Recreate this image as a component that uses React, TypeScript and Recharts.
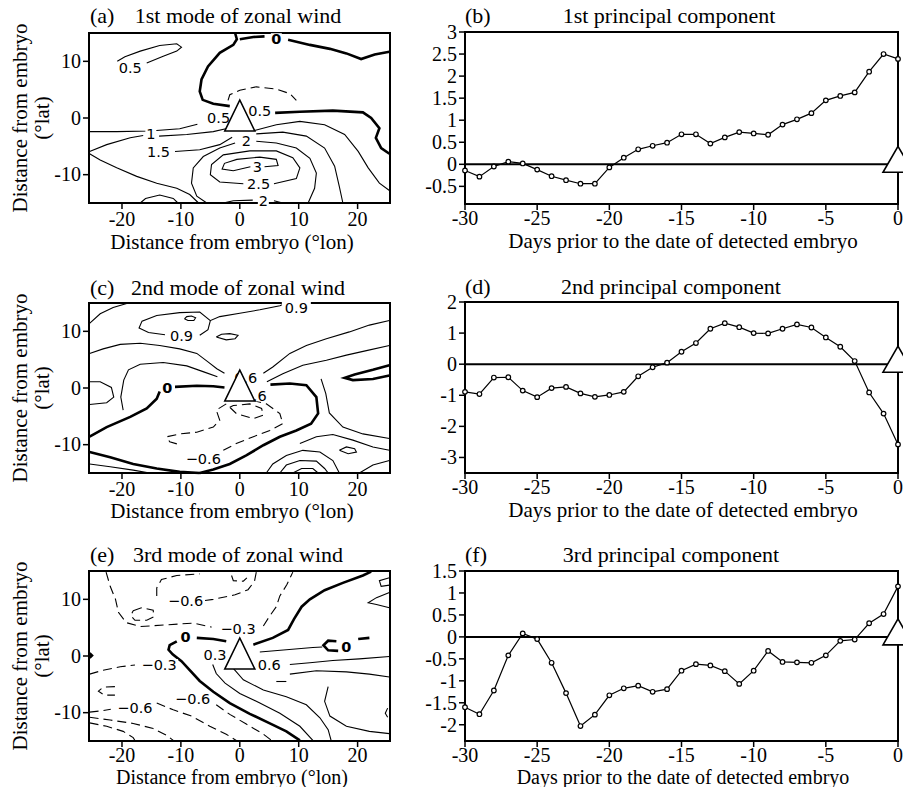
import {
  ComposedChart,
  Line,
  ReferenceArea,
  ReferenceLine,
  Scatter,
  XAxis,
  YAxis,
} from "recharts";

type Pt = [number, number];
type Kind = "thin" | "thick" | "dash";
type Contour = { id: string; kind: Kind; pts: Pt[] };
type Tag = { x: number; y: number; t: string; bold?: boolean };

const SERIF = "'Liberation Serif', 'Times New Roman', serif";
const SANS = "'DejaVu Sans', 'Liberation Sans', sans-serif";

// ---------- right column: principal components ----------
const days = [
  -30, -29, -28, -27, -26, -25, -24, -23, -22, -21, -20, -19, -18, -17, -16, -15,
  -14, -13, -12, -11, -10, -9, -8, -7, -6, -5, -4, -3, -2, -1, 0,
];
const dayTicks = [-30, -25, -20, -15, -10, -5, 0];

const pc1 = [
  -0.14, -0.28, -0.05, 0.06, 0.02, -0.12, -0.27, -0.36, -0.44, -0.44, -0.07, 0.15,
  0.34, 0.42, 0.49, 0.68, 0.68, 0.47, 0.61, 0.73, 0.7, 0.67, 0.9, 1.02, 1.16, 1.45,
  1.55, 1.63, 2.1, 2.5, 2.39,
];
const pc2 = [
  -0.89, -0.96, -0.43, -0.42, -0.85, -1.06, -0.77, -0.73, -0.94, -1.05, -0.99, -0.89,
  -0.39, -0.1, 0.05, 0.4, 0.68, 1.14, 1.32, 1.19, 1.0, 0.99, 1.14, 1.28, 1.18, 0.86,
  0.56, 0.1, -0.91, -1.59, -2.58,
];
const pc3 = [
  -1.6, -1.76, -1.22, -0.42, 0.08, -0.05, -0.59, -1.28, -2.03, -1.77, -1.33, -1.17,
  -1.11, -1.25, -1.19, -0.77, -0.62, -0.65, -0.78, -1.07, -0.77, -0.32, -0.57, -0.58,
  -0.59, -0.42, -0.09, -0.06, 0.31, 0.52, 1.15,
];
const pc1Ticks = [-0.5, 0, 0.5, 1, 1.5, 2, 2.5, 3];
const pc2Ticks = [-3, -2, -1, 0, 1, 2];
const pc3Ticks = [-2, -1.5, -1, -0.5, 0, 0.5, 1, 1.5];

// ---------- left column: zonal wind modes (lon, lat) ----------
const lonTicks = [-20, -10, 0, 10, 20];
const latTicks = [-10, 0, 10];
const LON: [number, number] = [-25.6, 25.5];
const LAT: [number, number] = [-15, 15];

// (a) 1st mode
const aLoop05: Pt[] = [[-15.8, 9.7], [-13.0, 10.9], [-10.7, 11.8], [-9.9, 12.5], [-10.7, 13.1], [-13.6, 12.8], [-16.9, 11.8], [-19.5, 10.8], [-20.8, 10.0]];
const aZeroNorth: Pt[] = [[-0.8, 15], [-0.5, 13.9], [-1.1, 12.9], [-3.4, 11.5], [-5.4, 9.1], [-6.5, 6.8], [-6.8, 4.7], [-6.3, 3.2], [-4.5, 2.5], [-1.7, 2.1]];
const aZeroTop: Pt[] = [[0, 13.9], [2.3, 14.3], [4.2, 14.4]];
const aZeroNE: Pt[] = [[8.2, 13.8], [11.9, 12.9], [15.3, 12.2], [18.1, 11.4], [20.6, 10.4], [22.9, 11.2], [25.4, 11.7]];
const aZeroEast: Pt[] = [[6.0, 0.9], [10.2, 1.1], [15.8, 1.3], [20.9, 1.0], [22.3, 0], [23.7, -1.8], [23.1, -3.5], [24.0, -5.3], [25.4, -6.3]];
const aNeg: Pt[] = [[-2.0, 3.1], [-1.7, 4.1], [0, 4.9], [2.8, 5.5], [6.2, 5.1], [8.5, 4.3], [9.6, 3.1]];
const a05West: Pt[] = [[-25.5, -2.4], [-20.9, -2.4], [-15.3, -2.3], [-10.2, -1.9], [-7.2, -1.1]];
const a1West: Pt[] = [[-25.5, -5.9], [-22.6, -4.7], [-18.6, -3.5], [-16.4, -3.1]];
const a1Mid: Pt[] = [[-13.7, -3.2], [-9.0, -2.9], [-4.5, -2.4], [-2.0, -1.8]];
const a1East: Pt[] = [[2.5, -2.2], [6.2, -1.2], [10.2, -0.6], [14.4, -1.2], [17.8, -2.9], [20.1, -5.9], [21.8, -8.8], [23.7, -11.5], [25.4, -12.8]];
const a15West: Pt[] = [[-11.0, -5.9], [-6.8, -5.6], [-3.4, -4.7], [-1.3, -3.4]];
const a15East: Pt[] = [[2.8, -2.8], [7.3, -2.5], [11.3, -3.2], [14.4, -5.3], [16.1, -8.5], [16.9, -12.1], [17.5, -15]];
const a2West: Pt[] = [[-5.6, -15], [-7.3, -13.8], [-8.2, -11.5], [-7.9, -8.8], [-6.2, -6.8], [-3.4, -5.3], [-0.8, -4.4]];
const a2East: Pt[] = [[2.8, -4.1], [6.2, -4.4], [9.6, -5.3], [11.9, -7.1], [13.0, -9.7], [12.7, -12.4], [11.6, -15]];
const a2SouthW: Pt[] = [[-2.8, -15], [-1.1, -14.6], [2.2, -14.5]];
const a2SouthE: Pt[] = [[5.8, -14.6], [7.3, -15]];
const a25: Pt[] = [[0.6, -11.6], [-3.4, -11.3], [-5.0, -10.0], [-4.8, -8.2], [-2.8, -6.5], [1.7, -5.8], [6.2, -5.8], [9.0, -7.0], [10.2, -8.8], [9.6, -10.7], [5.8, -11.6]];
const a3: Pt[] = [[1.8, -8.6], [-1.1, -9.3], [-3.0, -9.0], [-2.6, -8.0], [-0.5, -7.3], [3.4, -6.9], [6.2, -7.3], [6.5, -8.4], [4.2, -8.6]];
const aSW: Pt[] = [[-25.5, -6.3], [-23.7, -7.4], [-20.9, -8.8], [-17.5, -10.3], [-14.1, -11.5], [-10.7, -12.4], [-8.5, -13.5], [-7.0, -15]];
const aHump: Pt[] = [[-16.9, -15], [-16.0, -14.2], [-13.6, -13.6], [-11.3, -14.2], [-10.5, -15]];

const aContours: Contour[] = [
  { id: "aLoop05", kind: "thin", pts: aLoop05 },
  { id: "aZeroNorth", kind: "thick", pts: aZeroNorth },
  { id: "aZeroTop", kind: "thick", pts: aZeroTop },
  { id: "aZeroNE", kind: "thick", pts: aZeroNE },
  { id: "aZeroEast", kind: "thick", pts: aZeroEast },
  { id: "aNeg", kind: "dash", pts: aNeg },
  { id: "a05West", kind: "thin", pts: a05West },
  { id: "a1West", kind: "thin", pts: a1West },
  { id: "a1Mid", kind: "thin", pts: a1Mid },
  { id: "a1East", kind: "thin", pts: a1East },
  { id: "a15West", kind: "thin", pts: a15West },
  { id: "a15East", kind: "thin", pts: a15East },
  { id: "a2West", kind: "thin", pts: a2West },
  { id: "a2East", kind: "thin", pts: a2East },
  { id: "a2SouthW", kind: "thin", pts: a2SouthW },
  { id: "a2SouthE", kind: "thin", pts: a2SouthE },
  { id: "a25", kind: "thin", pts: a25 },
  { id: "a3", kind: "thin", pts: a3 },
  { id: "aSW", kind: "thin", pts: aSW },
  { id: "aHump", kind: "thin", pts: aHump },
];
const aTags: Tag[] = [
  { x: -18.6, y: 8.8, t: "0.5" },
  { x: 6.2, y: 13.9, t: "0", bold: true },
  { x: -3.6, y: 0, t: "0.5" },
  { x: 3.4, y: 1.2, t: "0.5" },
  { x: -15.1, y: -2.8, t: "1" },
  { x: -13.8, y: -5.9, t: "1.5" },
  { x: 1.1, y: -4.1, t: "2" },
  { x: 3.0, y: -8.6, t: "3" },
  { x: 3.2, y: -11.6, t: "2.5" },
  { x: 4.0, y: -14.6, t: "2" },
];

// (c) 2nd mode
const cTopLeft: Pt[] = [[-25.5, 11.4], [-23.7, 13.1], [-21.5, 14.2], [-19.2, 14.9]];
const c09North: Pt[] = [[-6.8, 9.3], [-5.4, 10.3], [-5.0, 11.9], [-3.4, 12.6], [0, 13.2], [3.4, 13.8], [6.8, 14.5], [7.9, 15]];
const c09West: Pt[] = [[-12.7, 9.4], [-15.5, 9.8], [-17.1, 10.6], [-16.6, 11.8], [-14.1, 12.8], [-10.2, 13.3], [-6.8, 13.4], [-5.0, 11.9]];
const cEll1: Pt[] = [[-9.4, 12.2], [-9.0, 12.6], [-8.2, 12.7], [-7.5, 12.4], [-7.8, 11.9], [-8.8, 11.9], [-9.4, 12.2]];
const cEll2: Pt[] = [[-4.0, 9.0], [-3.1, 9.5], [-1.7, 9.6], [-0.3, 9.3], [-0.8, 8.7], [-2.3, 8.5], [-4.0, 9.0]];
const cUpper: Pt[] = [[-25.5, 6.1], [-23.2, 6.9], [-20.3, 7.7], [-16.9, 7.9], [-13.6, 7.5], [-10.2, 6.9], [-7.3, 6.1], [-5.4, 4.6], [-3.9, 3.4], [-2.6, 2.6]];
const c06West: Pt[] = [[-19.8, -3.9], [-20.2, -1.6], [-19.7, 1.4], [-18.9, 3.2], [-16.9, 4.2], [-13.0, 4.5], [-9.0, 3.9], [-6.0, 2.8], [-3.8, 2.0]];
const cLeftLoop: Pt[] = [[-25.5, 1.1], [-23.7, 1.1], [-21.8, 0.1], [-21.4, -1.6], [-22.6, -2.6], [-25.5, -2.9]];
const cZeroWest: Pt[] = [[-25.5, -8.6], [-22.6, -6.9], [-18.6, -5.1], [-15.8, -3.6], [-14.1, -1.9], [-13.6, -0.6]];
const cZeroMid: Pt[] = [[-11.0, 0.2], [-7.3, 0.4], [-4.5, 0.3], [-2.6, 0.1]];
const cZeroEast: Pt[] = [[5.2, 0.6], [8.5, 0.8], [11.3, 0.5], [13.0, -1.6], [13.3, -4.5], [12.1, -6.3], [9.6, -7.5], [6.8, -8.6], [4.0, -10.1], [1.1, -11.9], [-1.7, -13.4], [-4.5, -14.4], [-6.8, -15]];
const cZeroBottom: Pt[] = [[-25.5, -11.3], [-22.0, -12.2], [-18.1, -13.4], [-14.1, -14.2], [-10.2, -14.8], [-6.8, -15]];
const cBottomLeft: Pt[] = [[-25.5, -13.4], [-22.0, -13.9], [-18.1, -14.5], [-15.3, -15]];
const cDashInner: Pt[] = [[-1.7, -3.4], [-0.6, -4.5], [2.3, -5.4], [4.0, -4.8], [3.7, -3.6], [1.7, -2.8], [-1.1, -3.1], [-1.7, -3.4]];
const cDashWest: Pt[] = [[-2.3, -2.8], [-4.0, -3.9], [-3.4, -5.7], [-4.5, -6.9], [-7.3, -7.8], [-10.2, -8.1], [-12.4, -8.6], [-11.9, -9.5], [-9.9, -10.1]];
const cDashEast: Pt[] = [[-2.8, -11.0], [-0.6, -9.8], [2.3, -8.6], [5.1, -7.5], [7.3, -6.3], [6.8, -4.5], [4.5, -2.8], [2.3, -2.2]];
const cR1: Pt[] = [[4.0, 2.6], [5.6, 3.7], [8.5, 6.1], [11.3, 7.5], [14.7, 8.7], [18.6, 9.9], [22.0, 11.1], [25.4, 11.9]];
const cR2: Pt[] = [[4.6, 1.1], [7.3, 2.5], [10.7, 4.0], [14.7, 4.9], [18.1, 5.8], [21.5, 6.6], [25.4, 7.5]];
const cTongue: Pt[] = [[25.4, 4.0], [22.6, 3.2], [19.5, 2.4], [17.8, 1.8], [19.2, 1.4], [22.6, 1.6], [25.4, 2.2]];
const cR3: Pt[] = [[13.8, 1.6], [14.6, -1.0], [15.2, -4.4], [17.5, -6.9], [20.9, -8.1], [25.4, -8.9]];
const cR4: Pt[] = [[10.2, -9.8], [13.0, -8.6], [15.8, -8.2], [19.2, -9.2], [22.6, -10.4], [25.4, -11.0]];
const cArc1: Pt[] = [[4.5, -15], [5.6, -13.4], [7.9, -11.9], [10.7, -11.0], [13.6, -11.3], [15.8, -12.8], [16.9, -15]];
const cArc2: Pt[] = [[6.8, -15], [7.9, -13.6], [10.2, -12.8], [13.0, -12.9], [14.4, -14.2], [15.0, -15]];
const cArc3: Pt[] = [[9.0, -15], [10.5, -14.2], [12.4, -14.2], [13.3, -15]];
const cEll3: Pt[] = [[16.9, -11.0], [18.1, -10.4], [19.5, -10.7], [19.8, -11.3], [18.4, -11.6], [16.9, -11.0]];
const cBR: Pt[] = [[20.3, -15], [22.6, -13.6], [25.4, -12.8]];

const cContours: Contour[] = [
  { id: "cTopLeft", kind: "thin", pts: cTopLeft },
  { id: "c09North", kind: "thin", pts: c09North },
  { id: "c09West", kind: "thin", pts: c09West },
  { id: "cEll1", kind: "thin", pts: cEll1 },
  { id: "cEll2", kind: "thin", pts: cEll2 },
  { id: "cUpper", kind: "thin", pts: cUpper },
  { id: "c06West", kind: "thin", pts: c06West },
  { id: "cLeftLoop", kind: "thin", pts: cLeftLoop },
  { id: "cZeroWest", kind: "thick", pts: cZeroWest },
  { id: "cZeroMid", kind: "thick", pts: cZeroMid },
  { id: "cZeroEast", kind: "thick", pts: cZeroEast },
  { id: "cZeroBottom", kind: "thick", pts: cZeroBottom },
  { id: "cBottomLeft", kind: "thin", pts: cBottomLeft },
  { id: "cDashInner", kind: "dash", pts: cDashInner },
  { id: "cDashWest", kind: "dash", pts: cDashWest },
  { id: "cDashEast", kind: "dash", pts: cDashEast },
  { id: "cR1", kind: "thin", pts: cR1 },
  { id: "cR2", kind: "thin", pts: cR2 },
  { id: "cTongue", kind: "thick", pts: cTongue },
  { id: "cR3", kind: "thin", pts: cR3 },
  { id: "cR4", kind: "thin", pts: cR4 },
  { id: "cArc1", kind: "thin", pts: cArc1 },
  { id: "cArc2", kind: "thin", pts: cArc2 },
  { id: "cArc3", kind: "thin", pts: cArc3 },
  { id: "cEll3", kind: "thin", pts: cEll3 },
  { id: "cBR", kind: "thin", pts: cBR },
];
const cTags: Tag[] = [
  { x: -9.9, y: 9.3, t: "0.9" },
  { x: 9.6, y: 14.2, t: "0.9" },
  { x: -12.3, y: 0, t: "0", bold: true },
  { x: 1.0, y: 1.8, t: "0.6" },
  { x: 2.6, y: -1.3, t: "0.6" },
  { x: -6.2, y: -12.5, t: "\u22120.6" },
];

// (e) 3rd mode
const eZeroMain: Pt[] = [[-10.7, 2.6], [-11.9, 1.9], [-12.1, 1.1], [-11.4, 0.3], [-9.9, -0.9], [-8.5, -2.5], [-6.8, -4.4], [-4.5, -6.3], [-1.7, -8.3], [1.7, -10.2], [5.1, -11.9], [7.9, -13.3], [10.2, -14.9]];
const eZeroMid: Pt[] = [[-7.3, 3.2], [-4.5, 3.0], [-2.3, 2.6]];
const eZeroNE: Pt[] = [[2.3, 2.0], [5.6, 3.2], [8.2, 4.6], [9.2, 6.5], [10.5, 8.7], [11.9, 10.0], [14.4, 11.6], [17.5, 12.9], [20.9, 14.2], [22.3, 14.9]];
const eTongueTail: Pt[] = [[22.0, 3.2], [20.1, 3.0]];
const eTongueC: Pt[] = [[16.4, 2.6], [15.0, 2.7], [14.2, 1.9], [15.0, 1.0], [16.7, 0.9]];
const e03: Pt[] = [[-4.6, -1.5], [-4.0, -3.1], [-2.5, -4.8], [0, -6.6], [3.4, -8.3], [6.8, -10.1], [10.2, -12.4], [12.4, -14.9]];
const eThin2: Pt[] = [[-1.1, -2.2], [0.6, -4.2], [4.0, -6.0], [7.9, -7.2], [11.3, -8.6], [13.6, -10.9], [15.0, -13.0], [15.5, -14.9]];
const e06: Pt[] = [[8.5, -1.5], [11.9, -1.2], [15.8, -0.8], [20.3, -0.5], [25.4, -0.1]];
const eThin3: Pt[] = [[3.4, 0.7], [7.9, 1.1], [12.4, 1.5], [14.0, 1.6]];
const eThin4: Pt[] = [[8.5, -3.2], [13.0, -2.6], [18.1, -2.8], [22.0, -3.2], [25.4, -3.7]];
const eThin5: Pt[] = [[15.0, -5.4], [14.4, -8.0], [15.3, -10.6], [18.1, -12.4], [22.0, -13.3], [25.4, -13.7]];
const eSm1: Pt[] = [[25.4, 13.8], [23.7, 13.3], [24.0, 12.3], [25.4, 12.5]];
const eSm2: Pt[] = [[25.4, 8.5], [23.2, 9.1], [21.8, 9.4], [23.2, 10.3], [25.4, 11.2]];
const eSm3: Pt[] = [[25.1, -9.2], [24.7, -10.1], [25.1, -10.8]];
const eTick: Pt[] = [[6.2, -4.5], [7.9, -4.5]];
const eEdge: Pt[] = [[-25.5, 0.5], [-25.1, 0.1], [-25.5, -0.3]];
const eD03N: Pt[] = [[-22.7, 14.8], [-22.0, 12.3], [-21.1, 10.0], [-20.6, 7.7], [-19.3, 5.9], [-16.9, 5.2], [-12.4, 5.5], [-7.9, 5.8], [-4.8, 5.1]];
const eD03NE: Pt[] = [[4.0, 5.3], [5.1, 7.1], [6.2, 8.7], [6.8, 10.6], [8.0, 12.6], [9.0, 14.8]];
const eD06N: Pt[] = [[2.8, 14.8], [2.5, 13.2], [1.4, 11.7], [-0.8, 10.8], [-4.5, 10.0], [-5.9, 9.8]];
const eD06NW: Pt[] = [[-14.1, 10.6], [-14.1, 12.0], [-13.3, 13.5], [-10.7, 14.2], [-6.8, 14.5]];
const eDC: Pt[] = [[-1.4, 14.2], [-1.1, 13.3], [0.6, 13.2], [1.2, 13.8]];
const eDLoop: Pt[] = [[-18.1, 8.0], [-16.7, 8.5], [-14.7, 8.1], [-14.6, 6.9], [-15.8, 6.3], [-17.8, 6.3], [-18.5, 7.1], [-18.1, 8.0]];
const eD03W: Pt[] = [[-25.5, -3.2], [-23.2, -2.5], [-20.3, -1.9], [-17.8, -1.6]];
const eDLoopW: Pt[] = [[-21.2, -5.4], [-23.2, -5.5], [-24.0, -6.2], [-23.0, -6.9], [-21.2, -6.9]];
const eD06W: Pt[] = [[-25.5, -9.9], [-23.7, -9.7], [-21.9, -9.4]];
const eD06Mid: Pt[] = [[-4.0, -8.6], [-1.7, -10.3], [1.1, -12.0], [4.0, -13.8], [5.4, -14.9]];
const eDJ: Pt[] = [[-14.1, -8.3], [-11.3, -9.5], [-8.2, -10.6], [-5.1, -12.4], [-2.3, -13.8], [-0.6, -14.9]];
const eDH: Pt[] = [[-25.5, -10.8], [-22.0, -11.3], [-18.1, -11.9], [-14.7, -12.8], [-12.4, -14.0], [-11.3, -14.9]];
const eDI: Pt[] = [[-25.5, -11.8], [-22.6, -12.4], [-19.8, -13.3], [-18.1, -14.4], [-17.8, -14.9]];

const eContours: Contour[] = [
  { id: "eZeroMain", kind: "thick", pts: eZeroMain },
  { id: "eZeroMid", kind: "thick", pts: eZeroMid },
  { id: "eZeroNE", kind: "thick", pts: eZeroNE },
  { id: "eTongueTail", kind: "thick", pts: eTongueTail },
  { id: "eTongueC", kind: "thick", pts: eTongueC },
  { id: "eEdge", kind: "thick", pts: eEdge },
  { id: "e03", kind: "thin", pts: e03 },
  { id: "eThin2", kind: "thin", pts: eThin2 },
  { id: "e06", kind: "thin", pts: e06 },
  { id: "eThin3", kind: "thin", pts: eThin3 },
  { id: "eThin4", kind: "thin", pts: eThin4 },
  { id: "eThin5", kind: "thin", pts: eThin5 },
  { id: "eSm1", kind: "thin", pts: eSm1 },
  { id: "eSm2", kind: "thin", pts: eSm2 },
  { id: "eSm3", kind: "thin", pts: eSm3 },
  { id: "eTick", kind: "thin", pts: eTick },
  { id: "eD03N", kind: "dash", pts: eD03N },
  { id: "eD03NE", kind: "dash", pts: eD03NE },
  { id: "eD06N", kind: "dash", pts: eD06N },
  { id: "eD06NW", kind: "dash", pts: eD06NW },
  { id: "eDC", kind: "dash", pts: eDC },
  { id: "eDLoop", kind: "dash", pts: eDLoop },
  { id: "eD03W", kind: "dash", pts: eD03W },
  { id: "eDLoopW", kind: "dash", pts: eDLoopW },
  { id: "eD06W", kind: "dash", pts: eD06W },
  { id: "eD06Mid", kind: "dash", pts: eD06Mid },
  { id: "eDJ", kind: "dash", pts: eDJ },
  { id: "eDH", kind: "dash", pts: eDH },
  { id: "eDI", kind: "dash", pts: eDI },
];
const eTags: Tag[] = [
  { x: -9.2, y: 3.4, t: "0", bold: true },
  { x: -4.2, y: 0.3, t: "0.3" },
  { x: 5.0, y: -1.5, t: "0.6" },
  { x: 18.1, y: 1.7, t: "0", bold: true },
  { x: -0.3, y: 4.8, t: "\u22120.3" },
  { x: -9.2, y: 9.7, t: "\u22120.6" },
  { x: -13.7, y: -1.6, t: "\u22120.3" },
  { x: -17.8, y: -9.2, t: "\u22120.6" },
  { x: -8.0, y: -7.6, t: "\u22120.6" },
];

const origin = [{ x: 0, y: 0 }];

const lineStyle: Record<Kind, { stroke: string; strokeWidth: number; strokeDasharray?: string }> = {
  thin: { stroke: "#000", strokeWidth: 1.1 },
  thick: { stroke: "#000", strokeWidth: 2.6 },
  dash: { stroke: "#000", strokeWidth: 1.1, strokeDasharray: "9 5" },
};

function toXY(pts: Pt[]) {
  return pts.map(([x, y]) => ({ x, y }));
}

function XTick(props: any) {
  const { x, y, payload } = props;
  return (
    <text x={x} y={y} dy="0.71em" textAnchor="middle" fontSize={20} fontFamily={SERIF} fill="#000">
      {payload.value}
    </text>
  );
}

function YTick(props: any) {
  const { x, y, payload } = props;
  return (
    <text x={x} y={y} dy="0.34em" textAnchor="end" fontSize={20} fontFamily={SERIF} fill="#000">
      {payload.value}
    </text>
  );
}

function ContourLabel(props: any) {
  const { cx, cy, payload } = props;
  const w = payload.t.length * 9 + 2;
  return (
    <g>
      <rect x={cx - w / 2} y={cy - 6} width={w} height={12} fill="#fff" />
      <text
        x={cx}
        y={cy}
        dy="0.36em"
        textAnchor="middle"
        fontSize={14.5}
        fontWeight={payload.bold ? 700 : 400}
        fontFamily={SANS}
        fill="#000"
      >
        {payload.t}
      </text>
    </g>
  );
}

function MapTriangle(props: any) {
  const { cx, cy } = props;
  return (
    <path
      d={`M${cx},${cy - 18} L${cx + 15},${cy + 13} L${cx - 15},${cy + 13} Z`}
      fill="#fff"
      stroke="#000"
      strokeWidth={1.6}
    />
  );
}

function SeriesTriangle(props: any) {
  const { cx, cy } = props;
  return (
    <path
      d={`M${cx},${cy - 18} L${cx + 15},${cy + 8} L${cx - 15},${cy + 8} Z`}
      fill="#fff"
      stroke="#000"
      strokeWidth={1.6}
    />
  );
}

const tickLine = { stroke: "#000", strokeWidth: 1.5 };

function ContourPanel({
  top,
  padTop,
  gap,
  contours,
  tags,
}: {
  top: number;
  padTop: number;
  gap: number;
  contours: Contour[];
  tags: Tag[];
}) {
  const h = 250;
  return (
    <div style={{ position: "absolute", left: 0, top }}>
      <ComposedChart width={440} height={h} margin={{ top: padTop, right: 50, bottom: h - padTop - 170 - 30, left: 44 }}>
        <XAxis
          type="number"
          dataKey="x"
          domain={LON}
          ticks={lonTicks}
          interval={0}
          height={30}
          axisLine={false}
          tickLine={tickLine}
          tickSize={6}
          tickMargin={gap}
          tick={<XTick />}
        />
        <YAxis
          type="number"
          dataKey="y"
          domain={LAT}
          ticks={latTicks}
          interval={0}
          width={45}
          axisLine={false}
          tickLine={tickLine}
          tickSize={6}
          tickMargin={2}
          tick={<YTick />}
        />
        {contours.map((c) => (
          <Line
            key={c.id}
            data={toXY(c.pts)}
            dataKey="y"
            type="linear"
            dot={false}
            activeDot={false}
            isAnimationActive={false}
            {...lineStyle[c.kind]}
          />
        ))}
        <Scatter data={tags} shape={ContourLabel} isAnimationActive={false} />
        <ReferenceArea x1={LON[0]} x2={LON[1]} y1={LAT[0]} y2={LAT[1]} fill="none" stroke="#000" strokeWidth={2} />
        <Scatter data={origin} shape={MapTriangle} isAnimationActive={false} />
      </ComposedChart>
    </div>
  );
}

function PcPanel({
  top,
  padTop,
  plotH,
  values,
  domain,
  ticks,
}: {
  top: number;
  padTop: number;
  plotH: number;
  values: number[];
  domain: [number, number];
  ticks: number[];
}) {
  const h = 250;
  const rows = days.map((d, i) => ({ x: d, y: values[i] }));
  return (
    <div style={{ position: "absolute", left: 400, top }}>
      <ComposedChart width={503} height={h} data={rows} margin={{ top: padTop, right: 5, bottom: h - padTop - plotH - 30, left: 5 }}>
        <XAxis
          type="number"
          dataKey="x"
          domain={[-30, 0]}
          ticks={dayTicks}
          interval={0}
          height={30}
          axisLine={false}
          tickLine={tickLine}
          tickSize={6}
          tickMargin={1}
          tick={<XTick />}
        />
        <YAxis
          type="number"
          dataKey="y"
          domain={domain}
          ticks={ticks}
          interval={0}
          width={60}
          axisLine={false}
          tickLine={tickLine}
          tickSize={6}
          tickMargin={2}
          tick={<YTick />}
        />
        <ReferenceLine y={0} stroke="#000" strokeWidth={2} />
        <Line
          dataKey="y"
          type="linear"
          stroke="#000"
          strokeWidth={1.2}
          dot={{ r: 2.3, fill: "#fff", stroke: "#000", strokeWidth: 1.2 }}
          activeDot={false}
          isAnimationActive={false}
        />
        <ReferenceArea x1={-30} x2={0} y1={domain[0]} y2={domain[1]} fill="none" stroke="#000" strokeWidth={2} />
        <Scatter data={origin} shape={SeriesTriangle} isAnimationActive={false} />
      </ComposedChart>
    </div>
  );
}

function Txt({
  x,
  y,
  size,
  text,
  start,
  rotate,
}: {
  x: number;
  y: number;
  size: number;
  text: string;
  start?: boolean;
  rotate?: boolean;
}) {
  return (
    <div
      style={{
        position: "absolute",
        left: x,
        top: y,
        transform: `translate(${start ? "0" : "-50%"}, -50%)${rotate ? " rotate(-90deg)" : ""}`,
        fontSize: size,
        fontFamily: SERIF,
        lineHeight: 1,
        whiteSpace: "nowrap",
        color: "#000",
      }}
    >
      {text}
    </div>
  );
}

const leftX = "Distance from embryo (\u00b0lon)";
const rightX = "Days prior to the date of detected embryo";
const yTitle = "Distance from embryo";
const yUnit = "(\u00b0lat)";

export default function App() {
  return (
    <div style={{ position: "absolute", left: 0, top: 0, width: 903, height: 787, background: "#fff", overflow: "hidden" }}>
      <ContourPanel top={0} padTop={33} gap={3} contours={aContours} tags={aTags} />
      <ContourPanel top={270} padTop={33} gap={3} contours={cContours} tags={cTags} />
      <ContourPanel top={530} padTop={41} gap={1} contours={eContours} tags={eTags} />

      <PcPanel top={0} padTop={32} plotH={172} values={pc1} domain={[-0.9, 3]} ticks={pc1Ticks} />
      <PcPanel top={270} padTop={32} plotH={171} values={pc2} domain={[-3.5, 2]} ticks={pc2Ticks} />
      <PcPanel top={530} padTop={41} plotH={170} values={pc3} domain={[-2.37, 1.5]} ticks={pc3Ticks} />

      <Txt x={90} y={16} size={22} start text="(a)" />
      <Txt x={238} y={16} size={22} text="1st mode of zonal wind" />
      <Txt x={465} y={16} size={22} start text="(b)" />
      <Txt x={669} y={16} size={22} text="1st principal component" />
      <Txt x={90} y={288} size={22} start text="(c)" />
      <Txt x={238} y={288} size={22} text="2nd mode of zonal wind" />
      <Txt x={465} y={287} size={22} start text="(d)" />
      <Txt x={671} y={287} size={22} text="2nd principal component" />
      <Txt x={90} y={555} size={22} start text="(e)" />
      <Txt x={238} y={555} size={22} text="3rd mode of zonal wind" />
      <Txt x={465} y={555} size={22} start text="(f)" />
      <Txt x={671} y={555} size={22} text="3rd principal component" />

      <Txt x={232} y={242} size={21} text={leftX} />
      <Txt x={232} y={511} size={21} text={leftX} />
      <Txt x={232} y={776.5} size={20} text={leftX} />
      <Txt x={683} y={241} size={21} text={rightX} />
      <Txt x={683} y={510} size={21} text={rightX} />
      <Txt x={683} y={776.5} size={20} text={rightX} />

      <Txt x={20} y={118} size={21} rotate text={yTitle} />
      <Txt x={42} y={118} size={21} rotate text={yUnit} />
      <Txt x={20} y={388} size={21} rotate text={yTitle} />
      <Txt x={42} y={388} size={21} rotate text={yUnit} />
      <Txt x={20} y={656} size={21} rotate text={yTitle} />
      <Txt x={42} y={656} size={21} rotate text={yUnit} />
    </div>
  );
}
